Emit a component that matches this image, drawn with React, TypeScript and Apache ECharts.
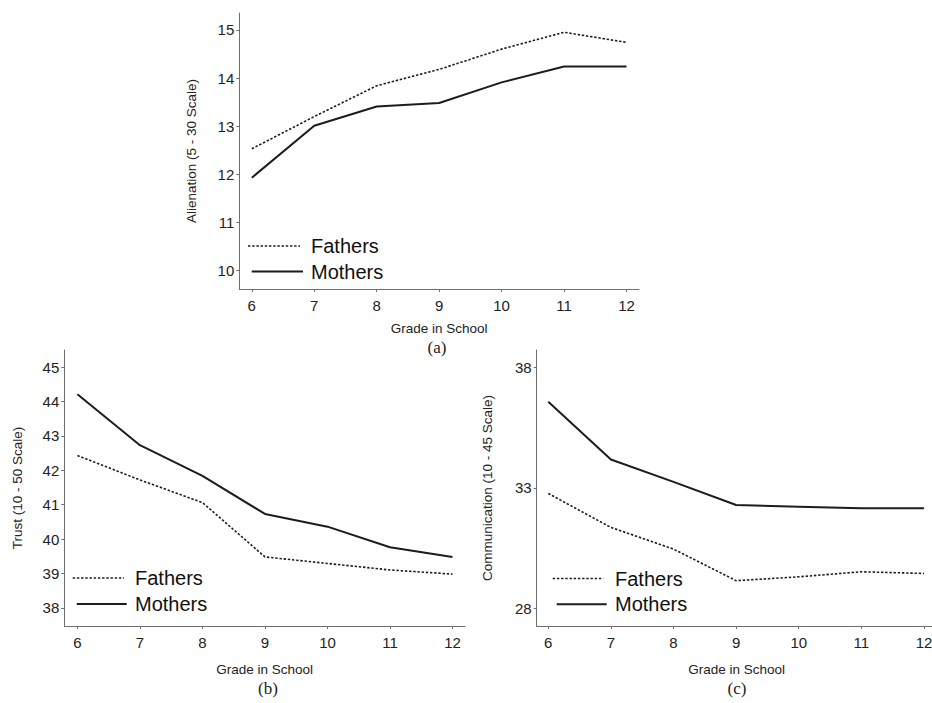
import React, { useEffect, useRef } from "react";
import * as echarts from "echarts";

const grades = [6, 7, 8, 9, 10, 11, 12];
const alienationFathers = [12.53, 13.2, 13.84, 14.18, 14.6, 14.95, 14.74];
const alienationMothers = [11.93, 13.01, 13.41, 13.48, 13.91, 14.24, 14.24];
const trustFathers = [42.43, 41.72, 41.06, 39.48, 39.29, 39.1, 38.98];
const trustMothers = [44.21, 42.73, 41.84, 40.73, 40.36, 39.76, 39.48];
const commFathers = [32.77, 31.36, 30.46, 29.15, 29.31, 29.52, 29.45];
const commMothers = [36.57, 34.18, 33.25, 32.29, 32.22, 32.15, 32.15];
const alienationTicks = [10, 11, 12, 13, 14, 15];
const trustTicks = [38, 39, 40, 41, 42, 43, 44, 45];
const commTicks = [28, 33, 38];
const seriesNames = ["Fathers", "Mothers"];
const xTitle = "Grade in School";
const panelLabels = ["(a)", "(b)", "(c)"];
const yTitles = ["Alienation (5 - 30 Scale)", "Trust (10 - 50 Scale)", "Communication (10 - 45 Scale)"];

const SANS = "'Liberation Sans', Arial, Helvetica, sans-serif";
const SERIF = "'Liberation Serif', 'Times New Roman', serif";
const LINE = "#1c1c1c";
const AXIS = "#6e6e6e";
const TEXT = "#222";
const DOT = [2.4, 1.8];

export default function App() {
  const ref = useRef<HTMLDivElement>(null);
  useEffect(() => {
    if (!ref.current) return;
    const chart = echarts.init(ref.current, undefined, { renderer: "svg" });

    const panels = [
      { grid: { left: 239.3, top: 13, width: 399.7, height: 276 }, x: [5.8, 12.2], y: [9.62, 15.35], yTicks: alienationTicks, f: alienationFathers, m: alienationMothers, yGap: 41, xGap: 32, label: [437, 347], legend: { fx: [248, 300], fy: 246, mx: [251.7, 303], my: 271.5, tx: 311 } },
      { grid: { left: 64.3, top: 350, width: 400.7, height: 276 }, x: [5.79, 12.2], y: [37.47, 45.5], yTicks: trustTicks, f: trustFathers, m: trustMothers, yGap: 40, xGap: 36.5, label: [268, 688], legend: { fx: [72.7, 124], fy: 578, mx: [76.7, 126.7], my: 604, tx: 135 } },
      { grid: { left: 536.7, top: 350, width: 399.8, height: 276 }, x: [5.815, 12.2], y: [27.27, 38.72], yTicks: commTicks, f: commFathers, m: commMothers, yGap: 42, xGap: 36.5, label: [737, 688], legend: { fx: [552.7, 603.3], fy: 578.5, mx: [556.7, 606.7], my: 604.3, tx: 615 } },
    ];

    const axisCommon = {
      type: "value" as const,
      splitLine: { show: false },
      axisLine: { show: true, lineStyle: { color: AXIS, width: 1 } },
      axisTick: { show: true, length: 3, inside: false, lineStyle: { color: AXIS, width: 1 } },
      nameMoveOverlap: false,
      nameTextStyle: { fontFamily: SANS, fontSize: 13.5, color: TEXT },
    };

    const graphics: any[] = [];
    panels.forEach((p, i) => {
      graphics.push({
        type: "text",
        x: p.label[0],
        y: p.label[1],
        style: { text: panelLabels[i], font: `17px ${SERIF}`, fill: TEXT, textAlign: "center", textVerticalAlign: "middle" },
      });
      const L = p.legend;
      graphics.push({ type: "line", shape: { x1: L.fx[0], y1: L.fy, x2: L.fx[1], y2: L.fy }, style: { stroke: LINE, lineWidth: 1.6, lineDash: DOT } });
      graphics.push({ type: "line", shape: { x1: L.mx[0], y1: L.my, x2: L.mx[1], y2: L.my }, style: { stroke: LINE, lineWidth: 2 } });
      graphics.push({ type: "text", x: L.tx, y: L.fy, style: { text: seriesNames[0], font: `20px ${SANS}`, fill: "#111", textVerticalAlign: "middle" } });
      graphics.push({ type: "text", x: L.tx, y: L.my, style: { text: seriesNames[1], font: `20px ${SANS}`, fill: "#111", textVerticalAlign: "middle" } });
    });

    chart.setOption({
      animation: false,
      backgroundColor: "#fff",
      grid: panels.map((p) => ({ ...p.grid, containLabel: false, outerBoundsMode: "none" })),
      xAxis: panels.map((p, i) => ({
        ...axisCommon,
        gridIndex: i,
        min: p.x[0],
        max: p.x[1],
        name: xTitle,
        nameLocation: "middle",
        nameGap: p.xGap,
        axisTick: { ...axisCommon.axisTick, customValues: grades },
        axisLabel: { customValues: grades, fontFamily: SANS, fontSize: 15, color: TEXT, margin: 9 },
      })),
      yAxis: panels.map((p, i) => ({
        ...axisCommon,
        gridIndex: i,
        min: p.y[0],
        max: p.y[1],
        name: yTitles[i],
        nameLocation: "middle",
        nameGap: p.yGap,
        axisTick: { ...axisCommon.axisTick, customValues: p.yTicks },
        axisLabel: { customValues: p.yTicks, fontFamily: SANS, fontSize: 15, color: TEXT, margin: 5 },
      })),
      series: panels.flatMap((p, i) => [
        {
          type: "line",
          name: seriesNames[0],
          xAxisIndex: i,
          yAxisIndex: i,
          symbol: "none",
          data: grades.map((g, k) => [g, p.f[k]]),
          lineStyle: { color: LINE, width: 1.6, type: DOT },
        },
        {
          type: "line",
          name: seriesNames[1],
          xAxisIndex: i,
          yAxisIndex: i,
          symbol: "none",
          data: grades.map((g, k) => [g, p.m[k]]),
          lineStyle: { color: LINE, width: 2, type: "solid" },
        },
      ]),
      graphic: graphics,
    });
    return () => chart.dispose();
  }, []);
  return <div ref={ref} style={{ position: "absolute", left: 0, top: 0, width: 932, height: 703 }} />;
}
